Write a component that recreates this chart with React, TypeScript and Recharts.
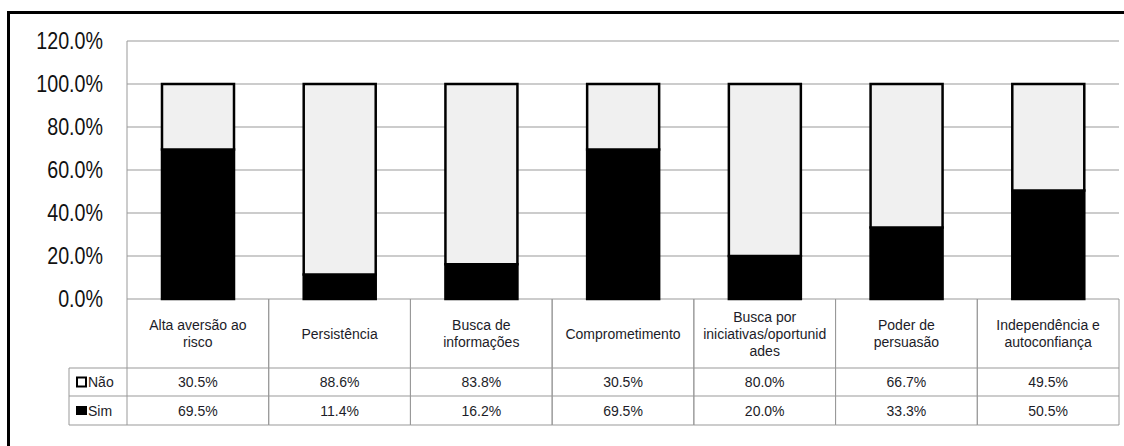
import { BarChart, Bar, XAxis, YAxis, CartesianGrid } from 'recharts'

const categories = [
  'Alta aversão ao risco',
  'Persistência',
  'Busca de informações',
  'Comprometimento',
  'Busca por iniciativas/oportunidades',
  'Poder de persuasão',
  'Independência e autoconfiança',
]

// how each category label wraps in the table header
const categoryLines = [
  ['Alta aversão ao', 'risco'],
  ['Persistência'],
  ['Busca de', 'informações'],
  ['Comprometimento'],
  ['Busca por', 'iniciativas/oportunid', 'ades'],
  ['Poder de', 'persuasão'],
  ['Independência e', 'autoconfiança'],
]

const nao = [30.5, 88.6, 83.8, 30.5, 80.0, 66.7, 49.5]
const sim = [69.5, 11.4, 16.2, 69.5, 20.0, 33.3, 50.5]

const yTicks = [0, 20, 40, 60, 80, 100, 120]

const data = categories.map((name, i) => ({ name, sim: sim[i], nao: nao[i] }))

const CHART_W = 1116
const Y_AXIS_W = 119
const MARGIN_RIGHT = 5
const COL_W = (CHART_W - Y_AXIS_W - MARGIN_RIGHT) / categories.length
const HEAD_H = 69
const ROW1_H = 28
const ROW2_H = 29
const LEGEND_W = 58
const GRID = '#999'
const TXT = '#1c1c28'
const FONT = "'Liberation Sans', Arial, sans-serif"

const fmt = (v: number) => v.toFixed(1) + '%'

// narrow look of the value axis labels
function YTick(props: any) {
  const { x, y, payload } = props
  return (
    <text
      transform={`translate(${x},${y}) scale(0.82,1)`}
      textAnchor="end"
      dominantBaseline="central"
      fontFamily={FONT}
      fontSize={24}
      fill="#111"
    >
      {fmt(payload.value)}
    </text>
  )
}

function TableTick(props: any) {
  const { x, y, payload } = props
  const i = payload.index
  const left = x - COL_W / 2
  const right = x + COL_W / 2
  const lines = categoryLines[i]
  const r1 = y + HEAD_H
  const r2 = r1 + ROW1_H
  const r3 = r2 + ROW2_H
  const lh = 17
  const firstY = y + HEAD_H / 2 - ((lines.length - 1) * lh) / 2
  const lx = left - LEGEND_W
  return (
    <g fontFamily={FONT} fontSize={14} fill={TXT}>
      <line x1={left} y1={y} x2={left} y2={r3} stroke={GRID} />
      <line x1={right} y1={y} x2={right} y2={r3} stroke={GRID} />
      <line x1={left} y1={r1} x2={right} y2={r1} stroke={GRID} />
      <line x1={left} y1={r2} x2={right} y2={r2} stroke={GRID} />
      <line x1={left} y1={r3} x2={right} y2={r3} stroke={GRID} />
      {lines.map((t: string, k: number) => (
        <text key={k} x={x} y={firstY + k * lh} textAnchor="middle" dominantBaseline="central">
          {t}
        </text>
      ))}
      <text x={x} y={(r1 + r2) / 2} textAnchor="middle" dominantBaseline="central">
        {fmt(nao[i])}
      </text>
      <text x={x} y={(r2 + r3) / 2} textAnchor="middle" dominantBaseline="central">
        {fmt(sim[i])}
      </text>
      {i === 0 && (
        <g>
          <line x1={lx} y1={r1} x2={left} y2={r1} stroke={GRID} />
          <line x1={lx} y1={r2} x2={left} y2={r2} stroke={GRID} />
          <line x1={lx} y1={r3} x2={left} y2={r3} stroke={GRID} />
          <line x1={lx} y1={r1} x2={lx} y2={r3} stroke={GRID} />
          <rect x={lx + 8} y={(r1 + r2) / 2 - 4.5} width={9} height={9} fill="#fff" stroke="#000" strokeWidth={2} />
          <text x={lx + 19} y={(r1 + r2) / 2} dominantBaseline="central">Não</text>
          <rect x={lx + 7} y={(r2 + r3) / 2 - 4.5} width={11} height={9} fill="#000" />
          <text x={lx + 19} y={(r2 + r3) / 2} dominantBaseline="central">Sim</text>
        </g>
      )}
    </g>
  )
}

export default function App() {
  return (
    <div style={{ position: 'fixed', left: 0, top: 0, width: 1124, height: 446, overflow: 'hidden', background: '#fff' }}>
      <div
        style={{
          position: 'absolute',
          left: 7,
          top: 11,
          width: 1300,
          height: 600,
          borderTop: '3px solid #000',
          borderLeft: '3px solid #000',
        }}
      />
      <div style={{ position: 'absolute', left: 8, top: 8 }}>
        <BarChart
          width={CHART_W}
          height={425}
          data={data}
          margin={{ top: 33, right: MARGIN_RIGHT, left: 0, bottom: 8 }}
          barSize={72}
        >
          <CartesianGrid vertical={false} stroke={GRID} />
          <YAxis
            width={Y_AXIS_W}
            domain={[0, 120]}
            ticks={yTicks}
            tickLine={false}
            tickSize={0}
            tickMargin={24}
            axisLine={{ stroke: GRID }}
            tick={<YTick />}
          />
          <XAxis
            dataKey="name"
            height={126}
            axisLine={false}
            tickLine={false}
            tickSize={0}
            tickMargin={0}
            interval={0}
            tick={<TableTick />}
          />
          <Bar dataKey="sim" stackId="a" fill="#000" stroke="#000" strokeWidth={2.5} isAnimationActive={false} />
          <Bar dataKey="nao" stackId="a" fill="#f0f0f0" stroke="#000" strokeWidth={2.5} isAnimationActive={false} />
        </BarChart>
      </div>
    </div>
  )
}
